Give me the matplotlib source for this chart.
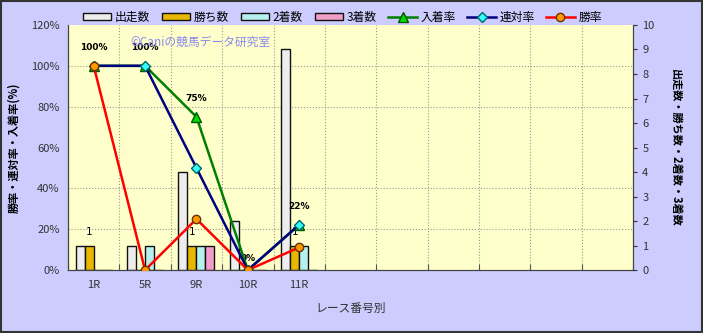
"""
レース番号別の成績グラフ
"""

import matplotlib
matplotlib.use('Agg')
import matplotlib.pyplot as plt
import numpy as np

plt.rcParams['font.family'] = ['Noto Sans CJK JP', 'DejaVu Sans']

races = ['1R', '5R', '9R', '10R', '11R']
n_slots = 11  # 空きスロットも含めたカテゴリ数

starts = [1, 1, 4, 2, 9]      # 出走数
wins = [1, 0, 1, 0, 1]        # 勝ち数
seconds = [0, 1, 1, 0, 1]     # 2着数
thirds = [0, 0, 1, 0, 0]      # 3着数

place_rate = [100, 100, 75, 0, 22.2]   # 入着率
rentai_rate = [100, 100, 50, 0, 22.2]  # 連対率
win_rate = [100, 0, 25, 0, 11.1]       # 勝率

fig = plt.figure(figsize=(7.03, 3.33), dpi=100, facecolor='#CCCCFF')
ax_cnt = fig.add_axes([0.0967, 0.189, 0.804, 0.736])
ax_pct = ax_cnt.twinx()

x = np.arange(len(races))
bw = 0.175

# 棒グラフ(出走数・勝ち数・2着数・3着数)
bar_specs = [(starts, '#EDEDED', '出走数'), (wins, '#E8B800', '勝ち数'),
             (seconds, '#B8F0F0', '2着数'), (thirds, '#F0A0C8', '3着数')]
bar_handles = []
for i, (vals, col, lab) in enumerate(bar_specs):
    b = ax_cnt.bar(x + (i - 1.5) * bw, vals, width=bw, color=col,
                   edgecolor='#111111', linewidth=1, label=lab, zorder=3)
    bar_handles.append(b)

# 勝ち数のラベル
for xi, v in zip(x, wins):
    if v > 0:
        ax_cnt.annotate(str(v), (xi - 0.5 * bw, v), xytext=(0, 6),
                        textcoords='offset points', ha='center', va='bottom',
                        fontsize=7.5, family='DejaVu Sans')

ax_cnt.set_facecolor('#FFFFCC')
ax_cnt.set_ylim(0, 10)
ax_cnt.set_xlim(-0.5, n_slots - 0.5)
ax_cnt.yaxis.tick_right()
ax_cnt.yaxis.set_label_position('right')
ax_cnt.set_yticks(range(0, 11))
ax_cnt.tick_params(axis='y', labelsize=8, colors='#333333', direction='out', length=3)
ax_cnt.set_ylabel('出走数・勝ち数・2着数・3着数', fontsize=8, fontweight='bold',
                  rotation=-90, labelpad=20)

# 横グリッド(左軸の20%刻みに合わせる)
ax_cnt.set_yticks(np.arange(0, 10.01, 10 / 6), minor=True)
ax_cnt.tick_params(axis='y', which='minor', length=0)
ax_cnt.grid(axis='y', which='minor', color='#999999', linestyle=':', linewidth=0.8, zorder=0)

# x軸
ax_cnt.set_xticks(np.arange(-0.5, n_slots), minor=False)
ax_cnt.set_xticklabels([])
ax_cnt.tick_params(axis='x', which='major', direction='in', length=4, color='#555555')
ax_cnt.grid(axis='x', which='major', color='#999999', linestyle=':', linewidth=0.8, zorder=0)
ax_cnt.set_xticks(x, minor=True)
ax_cnt.set_xticklabels(races, minor=True)
ax_cnt.tick_params(axis='x', which='minor', length=0, labelsize=8, colors='#333333', pad=7)
ax_cnt.set_xlabel('レース番号別', fontsize=8.5, color='#333333', labelpad=9)
ax_cnt.set_axisbelow(True)

# 折れ線(入着率・連対率・勝率)
ln1, = ax_pct.plot(x, place_rate, color='#008000', linewidth=1.8, marker='^',
                   markersize=7, markerfacecolor='#00DD00', markeredgecolor='#005500',
                   label='入着率', zorder=4)
ln2, = ax_pct.plot(x, rentai_rate, color='#000080', linewidth=1.8, marker='D',
                   markersize=5, markerfacecolor='#33FFFF', markeredgecolor='#006666',
                   label='連対率', zorder=5)
ln3, = ax_pct.plot(x, win_rate, color='#FF0000', linewidth=1.8, marker='o',
                   markersize=6, markerfacecolor='#FF9900', markeredgecolor='#663300',
                   label='勝率', zorder=6)

for xi, v in zip(x, place_rate):
    ax_pct.annotate('%d%%' % round(v), (xi, v), xytext=(0, 10 if v > 0 else 5),
                    textcoords='offset points', ha='center', va='bottom',
                    fontsize=6.5, fontweight='bold', family='DejaVu Sans')

ax_pct.set_ylim(0, 120)
ax_pct.yaxis.tick_left()
ax_pct.yaxis.set_label_position('left')
ax_pct.set_yticks(range(0, 121, 20))
ax_pct.set_yticklabels(['%d%%' % v for v in range(0, 121, 20)])
ax_pct.tick_params(axis='y', labelsize=8, colors='#333333', length=0, pad=6)
ax_pct.set_ylabel('勝率・連対率・入着率(%)', fontsize=8, fontweight='bold', labelpad=8)

for ax in [ax_cnt, ax_pct]:
    ax.spines['top'].set_visible(False)
    for s in ['left', 'right', 'bottom']:
        ax.spines[s].set_color('#444444')

# 透かし
fig.text(0.185, 0.862, '©Caniの競馬データ研究室', fontsize=8.5, color='#8888EE')

fig.legend(bar_handles + [ln1, ln2, ln3],
           ['出走数', '勝ち数', '2着数', '3着数', '入着率', '連対率', '勝率'],
           loc='center', bbox_to_anchor=(0.487, 0.948), ncol=7, frameon=False,
           fontsize=8.5, handlelength=2.4, handleheight=0.6, columnspacing=1.0,
           handletextpad=0.3)

# 外枠
fig.patches.append(plt.Rectangle((0.001, 0.002), 0.997, 0.995, transform=fig.transFigure,
                                 fill=False, edgecolor='#333333', linewidth=1.5))

fig.savefig('out.png', dpi=100, facecolor=fig.get_facecolor())
